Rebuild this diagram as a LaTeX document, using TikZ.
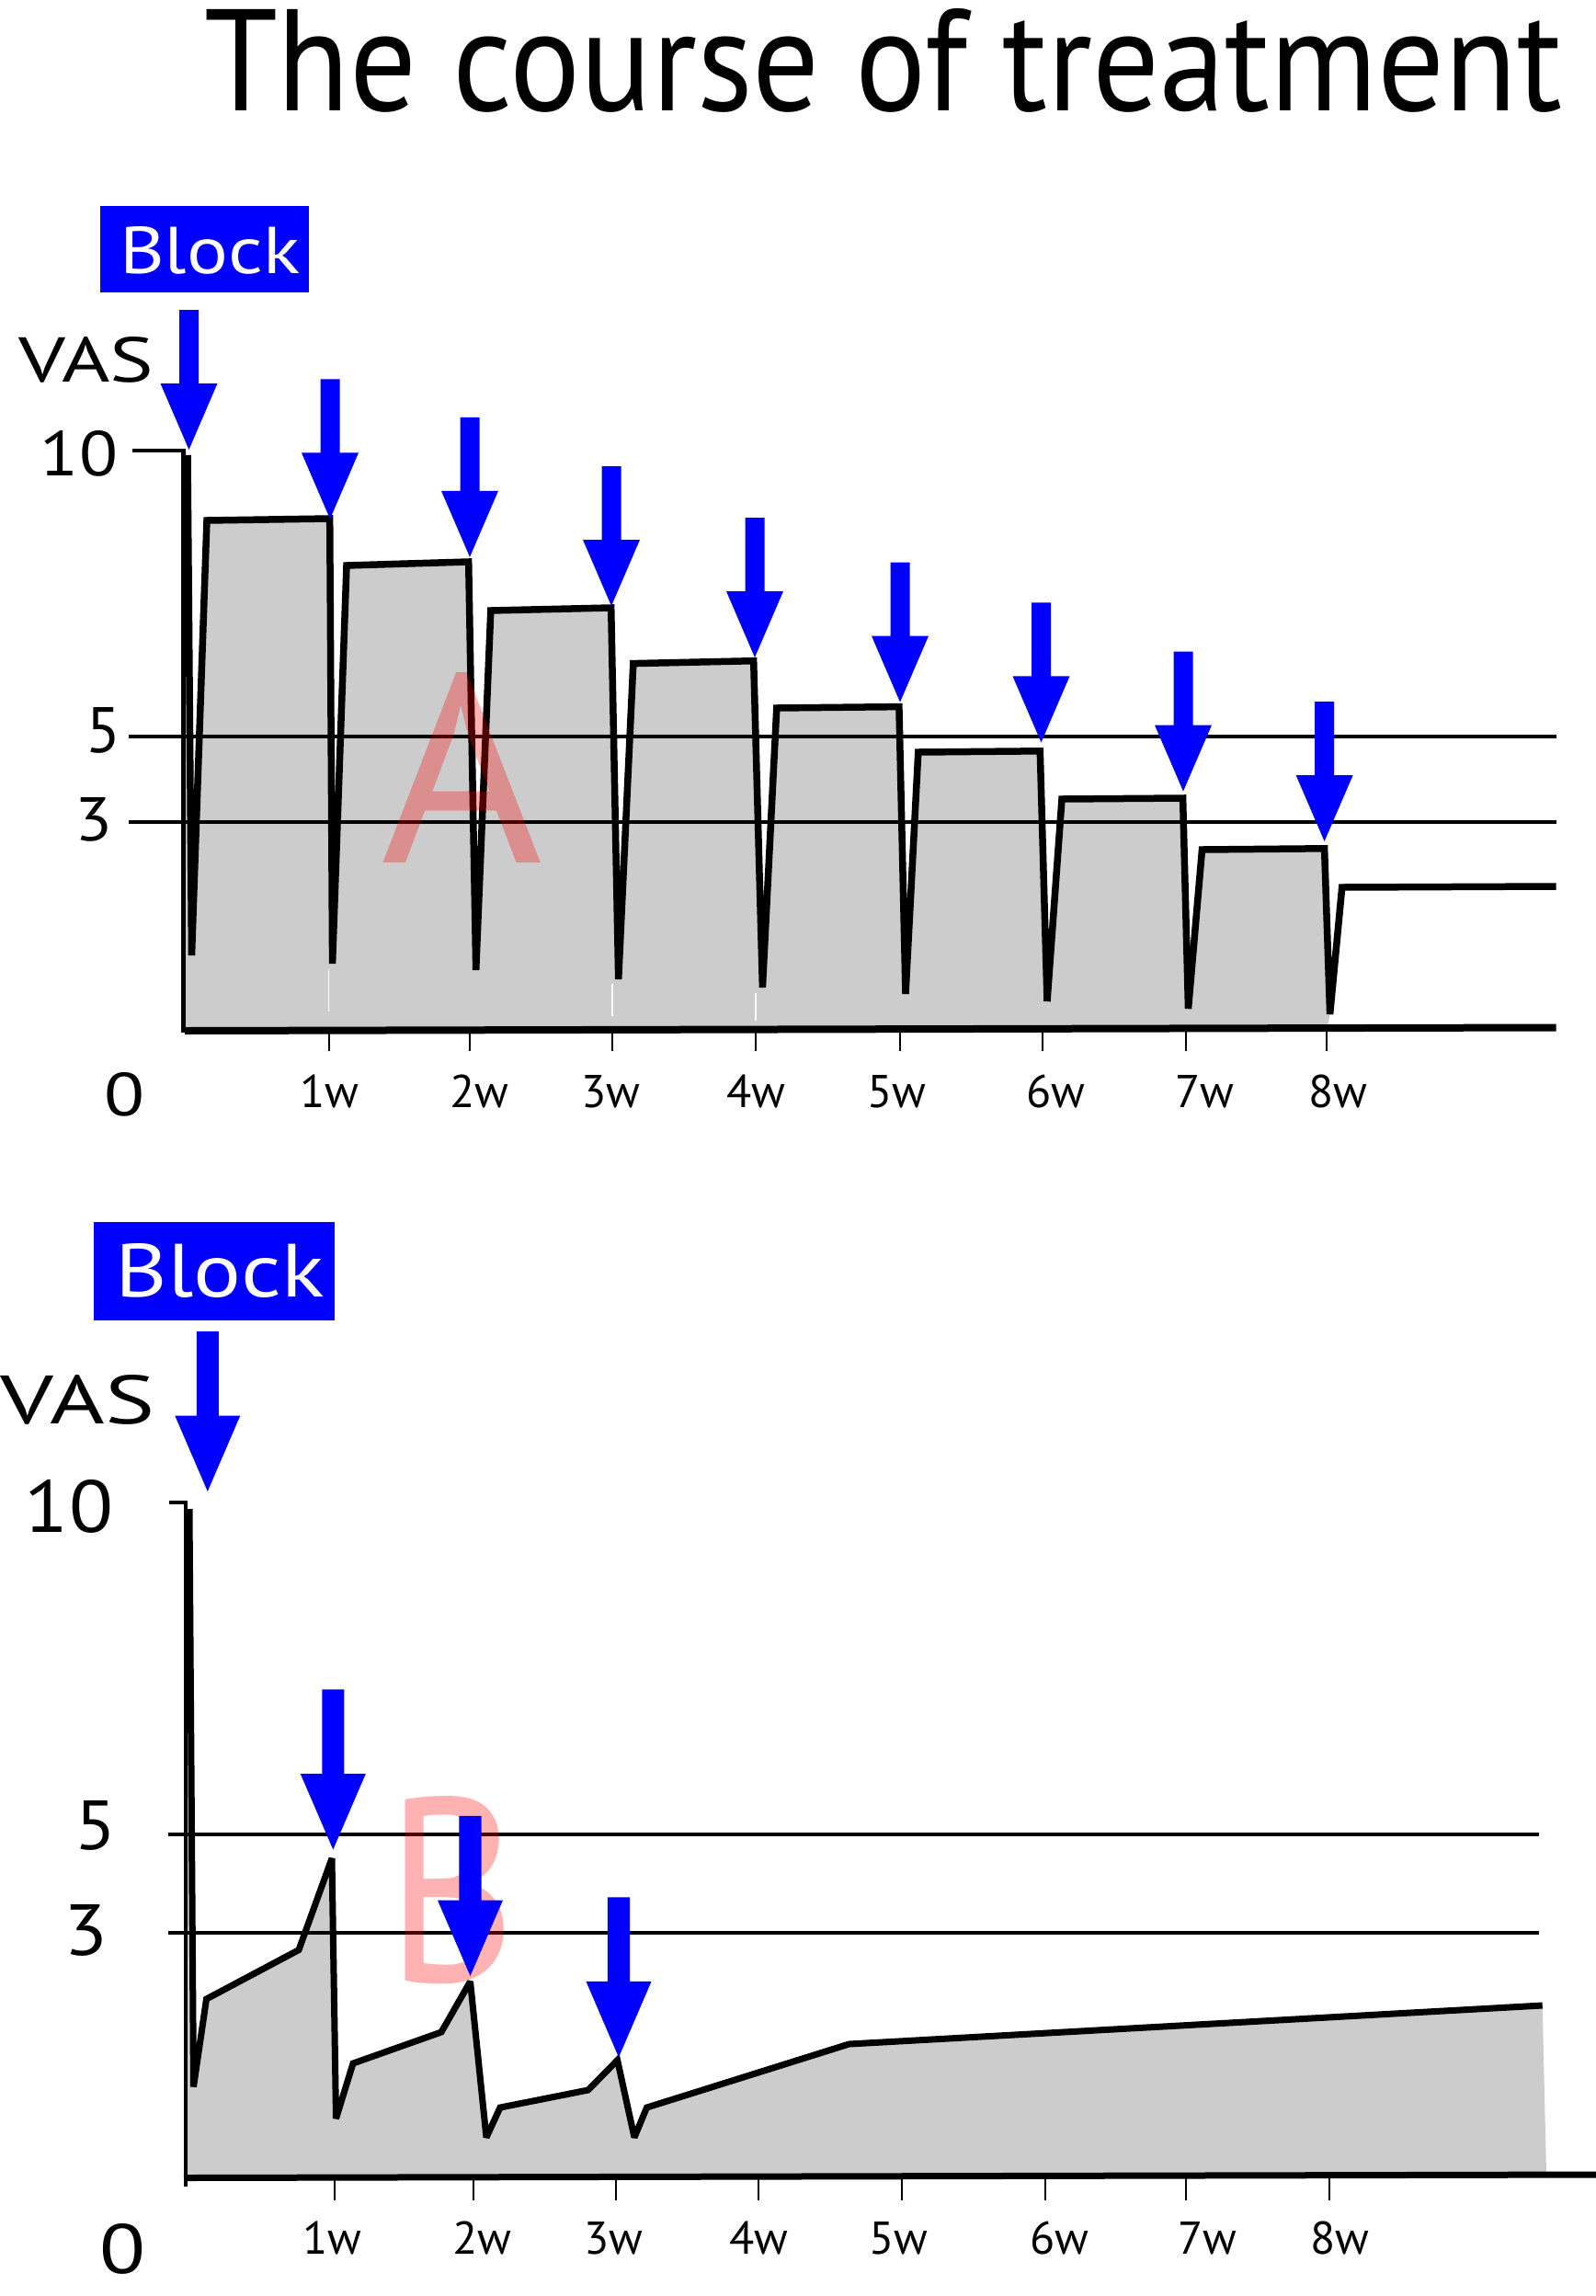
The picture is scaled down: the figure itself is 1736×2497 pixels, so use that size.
\documentclass[tikz,border=0pt]{standalone}
\usepackage{fontspec}
\setmainfont{PT Sans}
\usepackage{graphicx}
\definecolor{fillgray}{HTML}{CCCCCC}
\definecolor{pureblue}{RGB}{0,0,255}
\newcommand\fitbox[3]{\resizebox{#1pt}{#2pt}{#3}}
\tikzset{
  curveline/.style={line width=7.5pt, line join=miter, miter limit=3},
  refline/.style={line width=4pt},
  tickline/.style={line width=2pt},
  wk/.style={anchor=base, inner sep=0pt, outer sep=0pt, font=\fontsize{50}{50}\selectfont},
  txt/.style={anchor=base west, inner sep=0pt, outer sep=0pt},
  bigletter/.style={anchor=base west, inner sep=0pt, outer sep=0pt, text=red, text opacity=0.3},
  blockbox/.style={fill=pureblue, inner sep=0pt, outer sep=0pt, anchor=north west},
  pics/bluearrow/.style={code={
    \fill[pureblue] (-10.5,-152) -- (10.5,-152) -- (10.5,-72) -- (31,-72) -- (0,0)
      -- (-31,-72) -- (-10.5,-72) -- cycle;}}
}
\begin{document}
\begin{tikzpicture}[x=1pt,y=-1pt]
\useasboundingbox (0,0) rectangle (1736,2497);

% ---------------- Title
\node[txt] (title) at (222,121) {\fitbox{1477}{111}{The course of treatment}};

% ================= Chart A
\fill[fillgray] (200,1120) -- (200,492) -- (203,492) -- (208,1039) -- (225,566) -- (358.7,564)
  -- (361.6,1048) -- (377,615) -- (509.7,611) -- (517.7,1055) -- (533.8,664) -- (664.7,661)
  -- (672.7,1065) -- (688.8,721.6) -- (819.7,718.7) -- (829.4,1074) -- (844.8,770)
  -- (977.9,768.6) -- (985,1081) -- (998.8,818) -- (1131.3,816.8) -- (1139,1089)
  -- (1155,869) -- (1286.6,868) -- (1292.5,1097) -- (1307.5,924) -- (1440.6,922.8)
  -- (1446.6,1103) -- (1444,1117) -- cycle;
\draw[white, line width=1.2pt] (357.5,1054) -- (357.5,1100);
\draw[white, line width=1.2pt] (666,1070) -- (666,1105);
\draw[white, line width=1.2pt] (822,1080) -- (822,1110);

\coordinate (a5l) at (139.5,801); \coordinate (a5r) at (1692.5,801);
\coordinate (a3l) at (139.5,894); \coordinate (a3r) at (1692.5,894);
\draw[refline] (a5l) -- (a5r);
\draw[refline] (a3l) -- (a3r);
\coordinate (a10l) at (144,489.7); \coordinate (aorig) at (202,489.7);
\draw[line width=4pt] (a10l) -- (aorig);
\coordinate (atop) at (199.5,488); \coordinate (abot) at (199.5,1123);
\draw[line width=4.5pt] (atop) -- (abot);
\coordinate (abl) at (201,1121) ; \coordinate (abr) at (1692.5,1117.5);
\draw[line width=8pt] (abl) -- (abr);
\foreach \x in {357.6,511,666,822,979,1134,1289.5,1443}
  \draw[tickline] (\x,1121) -- (\x,1143);

\draw[curveline] (204,495) -- (208.5,1039) -- (225,566) -- (358.7,564)
  -- (361.6,1048) -- (377,615) -- (509.7,611) -- (517.7,1055) -- (533.8,664) -- (664.7,661)
  -- (672.7,1065) -- (688.8,721.6) -- (819.7,718.7) -- (829.4,1074) -- (844.8,770)
  -- (977.9,768.6) -- (985,1081) -- (998.8,818) -- (1131.3,816.8) -- (1139,1089)
  -- (1155,869) -- (1286.6,868) -- (1292.5,1097) -- (1307.5,924) -- (1440.6,922.8)
  -- (1446.6,1103) -- (1459.7,965) -- (1692.5,964);

\node[bigletter] (letterA) at (414.5,938) {\fitbox{176}{207}{A}};

\foreach \x/\y [count=\i] in {205.5/489,359/564.4,511/605.8,665/659,821/715,979/763.6,1132.5/807.4,1287/860.6,1440.6/915}
  \pic (arrA\i) at (\x,\y) {bluearrow};

\node[blockbox, minimum width=227pt, minimum height=94pt] (blockA) at (109,224) {};
\node[txt, text=white] (blockAtext) at (130,297) {\fitbox{196}{51}{Block}};
\node[txt] (vasA) at (20,415) {\fitbox{147}{49}{VAS}};
\node[txt] (tenA) at (44,517) {\fitbox{84}{49}{10}};
\node[txt] (fiveA) at (93,818) {\fitbox{38}{49}{5}};
\node[txt] (threeA) at (81,914) {\fitbox{41}{47}{3}};
\node[txt] (zeroA) at (113,1213) {\fitbox{44}{47}{0}};
\foreach \x/\t [count=\i] in {358.5/1w,521/2w,664.5/3w,822/4w,975/5w,1148.5/6w,1310.5/7w,1455/8w}
  \node[wk] (wA\i) at (\x,1204) {\t};

% ================= Chart B
\fill[fillgray] (202,2368) -- (202,1643) -- (207,1643) -- (210.5,2269.5) -- (224.5,2174)
  -- (325,2120.6) -- (361,2021) -- (365.5,2304) -- (384,2244) -- (480,2210) -- (511.5,2155)
  -- (529,2324.5) -- (544,2292) -- (639.7,2273) -- (671.6,2240.5) -- (690,2324.5)
  -- (703.5,2292) -- (923.5,2223) -- (1677.7,2181) -- (1682,2364) -- cycle;

\coordinate (b5l) at (183,1994.7); \coordinate (b5r) at (1674,1994.7);
\coordinate (b3l) at (183,2101.6); \coordinate (b3r) at (1674,2101.6);
\draw[refline] (b5l) -- (b5r);
\draw[refline] (b3l) -- (b3r);
\coordinate (b10l) at (184,1634); \coordinate (borig) at (203,1634);
\draw[line width=4pt] (b10l) -- (borig);
\coordinate (btop) at (202,1632); \coordinate (bbot) at (202,2378);
\draw[line width=4.5pt] (btop) -- (bbot);
\coordinate (bbl) at (200,2368.5); \coordinate (bbr) at (1736,2365);
\draw[line width=7pt] (bbl) -- (bbr);
\foreach \x in {363.5,514.7,669.7,824.7,981,1136.5,1290,1446}
  \draw[tickline] (\x,2368) -- (\x,2393);

\draw[curveline, line width=7pt] (206,1641) -- (210.5,2269.5) -- (224.5,2174)
  -- (325,2120.6) -- (361,2021) -- (365.5,2304) -- (384,2244) -- (480,2210) -- (511.5,2155)
  -- (529,2324.5) -- (544,2292) -- (639.7,2273) -- (671.6,2240.5) -- (690,2324.5)
  -- (703.5,2292) -- (923.5,2223) -- (1677.7,2181);

\node[bigletter] (letterB) at (420,2155) {\fitbox{141}{202}{B}};

\foreach \x/\y [count=\i] in {225.8/1622,362.3/2011.5,511.5/2149,673/2237.4}
  \pic[scale=1.145] (arrB\i) at (\x,\y) {bluearrow};

\node[blockbox, minimum width=262pt, minimum height=107pt] (blockB) at (102,1329) {};
\node[txt, text=white] (blockBtext) at (125.6,1410.7) {\fitbox{227}{58}{Block}};
\node[txt] (vasB) at (1,1548) {\fitbox{167}{53}{VAS}};
\node[txt] (tenB) at (27,1666) {\fitbox{96}{57}{10}};
\node[txt] (fiveB) at (81,2011) {\fitbox{45}{53}{5}};
\node[txt] (threeB) at (69,2126) {\fitbox{48}{55}{3}};
\node[txt] (zeroB) at (108,2472) {\fitbox{50}{54}{0}};
\foreach \x/\t [count=\i] in {361.5/1w,524.5/2w,667/3w,825/4w,977/5w,1152/6w,1313/7w,1457/8w}
  \node[wk] (wB\i) at (\x,2451) {\t};
\end{tikzpicture}
\end{document}
